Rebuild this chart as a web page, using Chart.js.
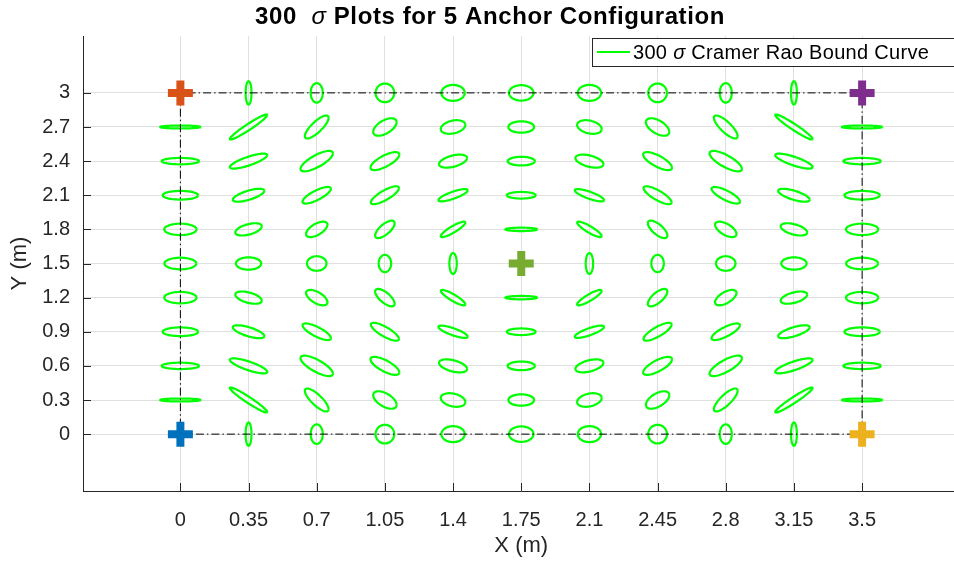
<!DOCTYPE html>
<html>
<head>
<meta charset="utf-8">
<script src="https://cdn.jsdelivr.net/npm/chart.js@4.4.0/dist/chart.umd.min.js"></script>
<style>
html, body { margin: 0; padding: 0; background: #fff; overflow: hidden; }
#wrap { width: 980px; height: 561px; }
</style>
</head>
<body>
<div id="wrap"><canvas id="crbChart" width="980" height="561"></canvas></div>
<script>
// test grid (m)
const xPositions = [0, 0.35, 0.7, 1.05, 1.4, 1.75, 2.1, 2.45, 2.8, 3.15, 3.5];
const yPositions = [0, 0.3, 0.6, 0.9, 1.2, 1.5, 1.8, 2.1, 2.4, 2.7, 3];
const xTickLabels = ['0', '0.35', '0.7', '1.05', '1.4', '1.75', '2.1', '2.45', '2.8', '3.15', '3.5'];
const yTickLabels = ['0', '0.3', '0.6', '0.9', '1.2', '1.5', '1.8', '2.1', '2.4', '2.7', '3'];

// anchors
const anchorX = [0, 0, 3.5, 3.5, 1.75];
const anchorY = [0, 3, 0, 3, 1.5];
const anchorColors = ['#0072BD', '#D95319', '#EDB120', '#7E2F8E', '#77AC30'];

// dash-dot boundary between corner anchors
const boundaryX = [0, 3.5, 3.5, 0, 0];
const boundaryY = [0, 0, 3, 3, 0];

// ellipse half extents in x and y (m) and correlation, rows y = 0..3, cols x = 0..3.5
const sigmaX = [
    [0, .015, .031, .048, .060, .063, .060, .048, .031, .015, 0],
    [.104, .096, .061, .060, .063, .066, .063, .060, .061, .096, .104],
    [.096, .096, .083, .074, .072, .070, .072, .074, .083, .096, .096],
    [.091, .081, .073, .072, .075, .074, .075, .072, .073, .081, .091],
    [.083, .068, .055, .050, .063, .082, .063, .050, .055, .068, .083],
    [.082, .065, .050, .032, .019, 0, .019, .032, .050, .065, .082],
    [.083, .068, .055, .050, .063, .082, .063, .050, .055, .068, .083],
    [.091, .081, .073, .072, .075, .074, .075, .072, .073, .081, .091],
    [.096, .096, .083, .074, .072, .070, .072, .074, .083, .096, .096],
    [.104, .096, .061, .060, .063, .066, .063, .060, .061, .096, .104],
    [0, .015, .031, .048, .060, .063, .060, .048, .031, .015, 0]
];
const sigmaY = [
    [0, .103, .086, .082, .070, .068, .070, .082, .086, .103, 0],
    [.013, .110, .101, .077, .060, .050, .060, .077, .101, .110, .013],
    [.028, .066, .090, .079, .057, .038, .057, .079, .090, .066, .028],
    [.038, .057, .073, .079, .054, .029, .054, .079, .073, .057, .038],
    [.050, .054, .068, .077, .068, .015, .068, .077, .068, .054, .050],
    [.051, .054, .064, .076, .092, 0, .092, .076, .064, .054, .051],
    [.050, .054, .068, .077, .068, .015, .068, .077, .068, .054, .050],
    [.038, .057, .073, .079, .054, .029, .054, .079, .073, .057, .038],
    [.028, .066, .090, .079, .057, .038, .057, .079, .090, .066, .028],
    [.013, .110, .101, .077, .060, .050, .060, .077, .101, .110, .013],
    [0, .103, .086, .082, .070, .068, .070, .082, .086, .103, 0]
];
const rho = [
    [0, 0, 0, 0, 0, 0, 0, 0, 0, 0, 0],
    [0, -.96, -.80, -.55, -.30, 0, .30, .55, .80, .96, 0],
    [0, -.80, -.76, -.73, -.47, 0, .47, .73, .76, .80, 0],
    [0, -.69, -.78, -.80, -.80, 0, .80, .80, .78, .69, 0],
    [0, -.50, -.60, -.70, -.88, 0, .88, .70, .60, .50, 0],
    [0, 0, 0, 0, 0, 0, 0, 0, 0, 0, 0],
    [0, .50, .60, .70, .88, 0, -.88, -.70, -.60, -.50, 0],
    [0, .69, .78, .80, .80, 0, -.80, -.80, -.78, -.69, 0],
    [0, .80, .76, .73, .47, 0, -.47, -.73, -.76, -.80, 0],
    [0, .96, .80, .55, .30, 0, -.30, -.55, -.80, -.96, 0],
    [0, 0, 0, 0, 0, 0, 0, 0, 0, 0, 0]
];

const FONT = "'Liberation Sans', Arial, Helvetica, sans-serif";
const AXIS_COLOR = '#262626';
const CURVE_COLOR = '#00ff00';
const legendParts = ['300 ', '\u03c3', ' Cramer Rao Bound Curve'];
const titleParts = ['300  ', '\u03c3', ' Plots for 5 Anchor Configuration'];

function ellipsePoints(cx, cy, sx, sy, r) {
    const pts = [];
    const q = Math.sqrt(1 - r * r);
    const steps = 72;
    for (let k = 0; k <= steps; k++) {
        const t = 2 * Math.PI * k / steps;
        pts.push({ x: cx + sx * Math.cos(t), y: cy + sy * (r * Math.cos(t) + q * Math.sin(t)) });
    }
    return pts;
}

const datasets = [];

anchorX.forEach((ax, i) => {
    datasets.push({
        label: 'anchor',
        data: [{ x: ax, y: anchorY[i] }],
        pointStyle: 'cross',
        pointRadius: 12.5,
        borderWidth: 8,
        borderColor: anchorColors[i],
        backgroundColor: anchorColors[i],
        showLine: false,
        order: 0
    });
});

datasets.push({
    label: 'boundary',
    data: boundaryX.map((bx, i) => ({ x: bx, y: boundaryY[i] })),
    showLine: true,
    borderColor: '#000000',
    borderWidth: 1,
    borderDash: [8, 3, 1.5, 3],
    pointRadius: 0,
    order: 1
});

yPositions.forEach((py, r) => {
    xPositions.forEach((px, c) => {
        if (sigmaX[r][c] === 0) return;
        datasets.push({
            label: 'crb',
            data: ellipsePoints(px, py, sigmaX[r][c], sigmaY[r][c], rho[r][c]),
            showLine: true,
            borderColor: CURVE_COLOR,
            borderWidth: 2.2,
            tension: 0.2,  // also stops the fast path that breaks closed curves
            pointRadius: 0,
            order: 2
        });
    });
});

// title with italic sigma
const titlePlugin = {
    id: 'mixedTitle',
    afterDraw(chart) {
        const ctx = chart.ctx;
        ctx.save();
        ctx.fillStyle = '#000';
        ctx.textBaseline = 'middle';
        ctx.letterSpacing = '0.6px';
        const fonts = ['bold 24px ' + FONT, 'italic 24px ' + FONT, 'bold 24px ' + FONT];
        let total = 0;
        titleParts.forEach((s, i) => { ctx.font = fonts[i]; total += ctx.measureText(s).width; });
        let x = 490 - total / 2;
        titleParts.forEach((s, i) => {
            ctx.font = fonts[i];
            ctx.fillText(s, x, 17);
            x += ctx.measureText(s).width;
        });
        ctx.restore();
    }
};

// MATLAB style legend box in the top right corner
const legendPlugin = {
    id: 'boxLegend',
    afterDraw(chart) {
        const ctx = chart.ctx;
        const area = chart.chartArea;
        const left = 592, top = 38, bottom = 66, right = area.right - 5;
        ctx.save();
        ctx.fillStyle = '#fff';
        ctx.fillRect(left, top, right - left, bottom - top);
        ctx.strokeStyle = AXIS_COLOR;
        ctx.lineWidth = 1;
        ctx.strokeRect(left + 0.5, top + 0.5, right - left, bottom - top);
        const cy = (top + bottom) / 2;
        ctx.strokeStyle = CURVE_COLOR;
        ctx.lineWidth = 2.2;
        ctx.beginPath();
        ctx.moveTo(597, cy);
        ctx.lineTo(630, cy);
        ctx.stroke();
        ctx.fillStyle = '#000';
        ctx.textBaseline = 'middle';
        ctx.letterSpacing = '0.3px';
        const fonts = ['20px ' + FONT, 'italic 20px ' + FONT, '20px ' + FONT];
        let x = 633;
        legendParts.forEach((s, i) => {
            ctx.font = fonts[i];
            ctx.fillText(s, x, cy + 1);
            x += ctx.measureText(s).width;
        });
        ctx.restore();
    }
};

// tick marks pointing inwards
const innerTicks = {
    id: 'innerTicks',
    afterDatasetsDraw(chart) {
        const ctx = chart.ctx;
        const area = chart.chartArea;
        const xs = chart.scales.x, ys = chart.scales.y;
        ctx.save();
        ctx.strokeStyle = AXIS_COLOR;
        ctx.lineWidth = 1;
        ctx.beginPath();
        xPositions.forEach(v => {
            const px = Math.round(xs.getPixelForValue(v)) + 0.5;
            ctx.moveTo(px, area.bottom);
            ctx.lineTo(px, area.bottom - 8);
        });
        yPositions.forEach(v => {
            const py = Math.round(ys.getPixelForValue(v)) + 0.5;
            ctx.moveTo(area.left, py);
            ctx.lineTo(area.left + 8, py);
        });
        ctx.stroke();
        ctx.restore();
    }
};

new Chart(document.getElementById('crbChart'), {
    type: 'scatter',
    data: { datasets: datasets },
    plugins: [innerTicks, legendPlugin, titlePlugin],
    options: {
        responsive: false,
        animation: false,
        events: [],
        layout: { padding: { top: 36, right: 18.3, left: 0, bottom: 0 } },
        plugins: {
            legend: { display: false },
            title: { display: false },
            tooltip: { enabled: false }
        },
        scales: {
            x: {
                type: 'linear',
                min: -0.5,
                max: 4,
                afterBuildTicks: s => { s.ticks = xPositions.map(v => ({ value: v })); },
                afterFit: s => { s.height = 70; },
                ticks: {
                    callback: (v, i) => xTickLabels[i],
                    font: { family: FONT, size: 20 },
                    color: AXIS_COLOR,
                    padding: 17,
                    maxRotation: 0,
                    autoSkip: false
                },
                grid: { color: '#dfdfdf', drawTicks: false },
                border: { color: AXIS_COLOR, width: 1 },
                title: {
                    display: true,
                    text: 'X (m)',
                    font: { family: FONT, size: 22 },
                    color: AXIS_COLOR,
                    padding: { top: 0, bottom: 2 }
                }
            },
            y: {
                type: 'linear',
                min: -0.5,
                max: 3.5,
                afterBuildTicks: s => { s.ticks = yPositions.map(v => ({ value: v })); },
                afterFit: s => { s.width = 83; },
                ticks: {
                    callback: (v, i) => yTickLabels[i],
                    font: { family: FONT, size: 20 },
                    color: AXIS_COLOR,
                    padding: 13,
                    autoSkip: false
                },
                grid: { color: '#dfdfdf', drawTicks: false },
                border: { color: AXIS_COLOR, width: 1 },
                title: {
                    display: true,
                    text: 'Y (m)',
                    font: { family: FONT, size: 22 },
                    color: AXIS_COLOR,
                    padding: { top: 7, bottom: 0 }
                }
            }
        }
    }
});
</script>
</body>
</html>
